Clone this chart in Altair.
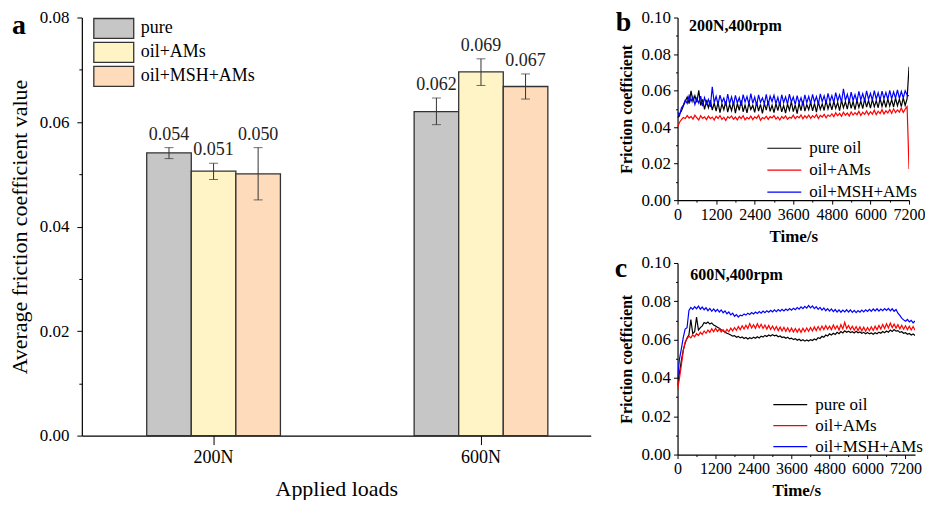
import altair as alt
import pandas as pd

FONT = "Liberation Serif"

# ---------------- panel a: average friction coefficient ----------------
LOADS = ["200N", "600N"]
GROUPS = ["pure", "oil+AMs", "oil+MSH+AMs"]
BAR_COLORS = ["#c6c6c6", "#fff4c6", "#fddbbb"]
BAR_LOAD = ["200N", "200N", "200N", "600N", "600N", "600N"]
BAR_GROUP = ["pure", "oil+AMs", "oil+MSH+AMs", "pure", "oil+AMs", "oil+MSH+AMs"]
BAR_MEAN = [0.0541, 0.0506, 0.0501, 0.0620, 0.0696, 0.0668]
BAR_ERR_LO = [0.0530, 0.0490, 0.0451, 0.0595, 0.0670, 0.0644]
BAR_ERR_HI = [0.0551, 0.0521, 0.0551, 0.0646, 0.0721, 0.0692]
BAR_LABEL = ["0.054", "0.051", "0.050", "0.062", "0.069", "0.067"]
A_Y_TICKS = [0.00, 0.01, 0.02, 0.03, 0.04, 0.05, 0.06, 0.07, 0.08]

# ---------------- panels b and c: friction coefficient vs time ----------------
SERIES = ["pure oil", "oil+AMs", "oil+MSH+AMs"]
LINE_COLORS = ["#000000", "#ff0000", "#0000ff"]
SAMPLE_STEP_S = 60  # sampling interval of the recorded curves (s)
TIME_TICKS = [0, 600, 1200, 1800, 2400, 3000, 3600, 4200, 4800, 5400, 6000, 6600, 7200]
BC_Y_TICKS = [0.00, 0.01, 0.02, 0.03, 0.04, 0.05, 0.06, 0.07, 0.08, 0.09, 0.10]

B_PURE = [
    0.0450, 0.0472, 0.0488, 0.0515, 0.0540, 0.0565, 0.0528, 0.0598, 0.0541, 0.0572,
    0.0535, 0.0601, 0.0518, 0.0552, 0.0497, 0.0541, 0.0506, 0.0548, 0.0493, 0.0532,
    0.0488, 0.0535, 0.0479, 0.0527, 0.0495, 0.0541, 0.0482, 0.0525, 0.0490, 0.0538,
    0.0476, 0.0529, 0.0492, 0.0546, 0.0484, 0.0521, 0.0478, 0.0533, 0.0496, 0.0519,
    0.0481, 0.0537, 0.0488, 0.0524, 0.0475, 0.0530, 0.0493, 0.0542, 0.0486, 0.0520,
    0.0479, 0.0528, 0.0490, 0.0535, 0.0483, 0.0518, 0.0477, 0.0526, 0.0492, 0.0539,
    0.0485, 0.0522, 0.0474, 0.0531, 0.0490, 0.0544, 0.0487, 0.0523, 0.0495, 0.0536,
    0.0489, 0.0530, 0.0482, 0.0538, 0.0497, 0.0527, 0.0491, 0.0545, 0.0499, 0.0533,
    0.0494, 0.0541, 0.0502, 0.0535, 0.0490, 0.0547, 0.0505, 0.0539, 0.0498, 0.0551,
    0.0503, 0.0540, 0.0496, 0.0548, 0.0507, 0.0543, 0.0501, 0.0555, 0.0509, 0.0546,
    0.0504, 0.0552, 0.0511, 0.0545, 0.0506, 0.0557, 0.0513, 0.0549, 0.0508, 0.0554,
    0.0515, 0.0550, 0.0510, 0.0558, 0.0517, 0.0553, 0.0512, 0.0560, 0.0519, 0.0556,
    0.0730,
]
B_AMS = [
    0.0400, 0.0425, 0.0441, 0.0452, 0.0447, 0.0463, 0.0449, 0.0458, 0.0444, 0.0465,
    0.0451, 0.0439, 0.0462, 0.0448, 0.0456, 0.0441, 0.0460, 0.0446, 0.0455, 0.0438,
    0.0459, 0.0447, 0.0463, 0.0442, 0.0454, 0.0436, 0.0457, 0.0449, 0.0461, 0.0443,
    0.0455, 0.0440, 0.0458, 0.0447, 0.0462, 0.0439, 0.0453, 0.0445, 0.0460, 0.0441,
    0.0456, 0.0448, 0.0464, 0.0437, 0.0452, 0.0446, 0.0459, 0.0442, 0.0457, 0.0450,
    0.0463, 0.0444, 0.0455, 0.0439, 0.0458, 0.0447, 0.0461, 0.0443, 0.0454, 0.0449,
    0.0465, 0.0446, 0.0459, 0.0451, 0.0467, 0.0445, 0.0462, 0.0450, 0.0466, 0.0448,
    0.0463, 0.0452, 0.0469, 0.0447, 0.0464, 0.0455, 0.0470, 0.0451, 0.0466, 0.0458,
    0.0473, 0.0456, 0.0478, 0.0462, 0.0475, 0.0459, 0.0481, 0.0465, 0.0477, 0.0461,
    0.0483, 0.0466, 0.0479, 0.0468, 0.0486, 0.0463, 0.0481, 0.0470, 0.0488, 0.0467,
    0.0484, 0.0471, 0.0492, 0.0468, 0.0487, 0.0474, 0.0495, 0.0472, 0.0489, 0.0477,
    0.0496, 0.0475, 0.0500, 0.0479, 0.0494, 0.0482, 0.0505, 0.0480, 0.0498, 0.0512,
    0.0170,
]
B_MSH = [
    0.0482, 0.0462, 0.0505, 0.0521, 0.0548, 0.0530, 0.0572, 0.0541, 0.0565, 0.0523,
    0.0558, 0.0531, 0.0570, 0.0515, 0.0562, 0.0527, 0.0552, 0.0510, 0.0621, 0.0533,
    0.0568, 0.0524, 0.0575, 0.0536, 0.0559, 0.0518, 0.0580, 0.0529, 0.0566, 0.0521,
    0.0573, 0.0532, 0.0561, 0.0516, 0.0578, 0.0538, 0.0567, 0.0525, 0.0583, 0.0530,
    0.0564, 0.0519, 0.0576, 0.0535, 0.0560, 0.0527, 0.0579, 0.0522, 0.0569, 0.0540,
    0.0574, 0.0528, 0.0563, 0.0517, 0.0577, 0.0534, 0.0566, 0.0526, 0.0581, 0.0537,
    0.0565, 0.0523, 0.0572, 0.0531, 0.0560, 0.0520, 0.0576, 0.0533, 0.0568, 0.0528,
    0.0579, 0.0536, 0.0567, 0.0525, 0.0582, 0.0539, 0.0571, 0.0530, 0.0585, 0.0541,
    0.0573, 0.0534, 0.0589, 0.0543, 0.0576, 0.0537, 0.0610, 0.0545, 0.0580, 0.0538,
    0.0592, 0.0546, 0.0578, 0.0540, 0.0596, 0.0549, 0.0583, 0.0544, 0.0598, 0.0551,
    0.0585, 0.0547, 0.0600, 0.0553, 0.0588, 0.0548, 0.0597, 0.0556, 0.0590, 0.0552,
    0.0601, 0.0555, 0.0593, 0.0558, 0.0604, 0.0557, 0.0595, 0.0560, 0.0599, 0.0576,
    0.0570,
]

C_PURE = [
    0.0360, 0.0425, 0.0490, 0.0545, 0.0582, 0.0608, 0.0625, 0.0705, 0.0632, 0.0641,
    0.0718, 0.0650, 0.0663, 0.0672, 0.0689, 0.0684, 0.0692, 0.0681, 0.0687, 0.0676,
    0.0671, 0.0664, 0.0659, 0.0652, 0.0646, 0.0640, 0.0633, 0.0629, 0.0624, 0.0618,
    0.0621, 0.0612, 0.0617, 0.0609, 0.0614, 0.0606, 0.0611, 0.0603, 0.0610, 0.0605,
    0.0612, 0.0607, 0.0615, 0.0609, 0.0618, 0.0613, 0.0622, 0.0616, 0.0624, 0.0619,
    0.0626, 0.0620, 0.0623, 0.0615, 0.0619, 0.0611, 0.0614, 0.0607, 0.0612, 0.0604,
    0.0608, 0.0600, 0.0605, 0.0597, 0.0602, 0.0594, 0.0599, 0.0592, 0.0598, 0.0593,
    0.0600, 0.0595, 0.0603, 0.0598, 0.0610, 0.0606, 0.0617, 0.0612, 0.0624, 0.0619,
    0.0630, 0.0624, 0.0633, 0.0627, 0.0638, 0.0631, 0.0642, 0.0635, 0.0646, 0.0638,
    0.0644, 0.0637, 0.0641, 0.0634, 0.0643, 0.0636, 0.0640, 0.0633, 0.0638, 0.0631,
    0.0637, 0.0630, 0.0635, 0.0628, 0.0636, 0.0631, 0.0639, 0.0633, 0.0642, 0.0636,
    0.0645, 0.0639, 0.0650, 0.0643, 0.0652, 0.0644, 0.0647, 0.0638, 0.0641, 0.0633,
    0.0636, 0.0628, 0.0632, 0.0624, 0.0629, 0.0622,
]
C_AMS = [
    0.0340, 0.0398, 0.0465, 0.0540, 0.0588, 0.0605, 0.0618, 0.0609, 0.0624, 0.0615,
    0.0632, 0.0621, 0.0638, 0.0627, 0.0645, 0.0633, 0.0650, 0.0638, 0.0657, 0.0641,
    0.0659, 0.0643, 0.0655, 0.0640, 0.0652, 0.0637, 0.0654, 0.0641, 0.0660, 0.0646,
    0.0663, 0.0648, 0.0668, 0.0652, 0.0672, 0.0655, 0.0675, 0.0658, 0.0684, 0.0661,
    0.0678, 0.0659, 0.0683, 0.0662, 0.0680, 0.0658, 0.0676, 0.0655, 0.0674, 0.0653,
    0.0671, 0.0650, 0.0668, 0.0647, 0.0665, 0.0645, 0.0664, 0.0643, 0.0662, 0.0641,
    0.0660, 0.0640, 0.0658, 0.0639, 0.0657, 0.0638, 0.0659, 0.0641, 0.0661, 0.0644,
    0.0663, 0.0645, 0.0666, 0.0647, 0.0668, 0.0649, 0.0671, 0.0652, 0.0673, 0.0654,
    0.0670, 0.0652, 0.0676, 0.0655, 0.0672, 0.0650, 0.0678, 0.0656, 0.0690, 0.0658,
    0.0674, 0.0653, 0.0670, 0.0649, 0.0668, 0.0647, 0.0666, 0.0645, 0.0665, 0.0644,
    0.0663, 0.0646, 0.0667, 0.0648, 0.0670, 0.0651, 0.0674, 0.0655, 0.0679, 0.0658,
    0.0683, 0.0661, 0.0686, 0.0663, 0.0681, 0.0660, 0.0678, 0.0656, 0.0675, 0.0654,
    0.0672, 0.0652, 0.0670, 0.0650, 0.0668, 0.0649,
]
C_MSH = [
    0.0400, 0.0498, 0.0552, 0.0610, 0.0655, 0.0662, 0.0752, 0.0768, 0.0758, 0.0772,
    0.0761, 0.0775, 0.0759, 0.0770, 0.0756, 0.0766, 0.0751, 0.0763, 0.0748, 0.0760,
    0.0747, 0.0758, 0.0744, 0.0755, 0.0740, 0.0750, 0.0735, 0.0744, 0.0729, 0.0738,
    0.0722, 0.0731, 0.0718, 0.0728, 0.0724, 0.0734, 0.0728, 0.0738, 0.0731, 0.0741,
    0.0734, 0.0744, 0.0737, 0.0746, 0.0738, 0.0749, 0.0741, 0.0751, 0.0743, 0.0753,
    0.0745, 0.0755, 0.0746, 0.0757, 0.0748, 0.0758, 0.0750, 0.0760, 0.0752, 0.0762,
    0.0754, 0.0764, 0.0756, 0.0767, 0.0759, 0.0771, 0.0762, 0.0774, 0.0764, 0.0778,
    0.0766, 0.0776, 0.0762, 0.0772, 0.0758, 0.0768, 0.0754, 0.0765, 0.0751, 0.0762,
    0.0749, 0.0760, 0.0746, 0.0757, 0.0744, 0.0755, 0.0743, 0.0754, 0.0745, 0.0756,
    0.0744, 0.0755, 0.0742, 0.0753, 0.0741, 0.0752, 0.0743, 0.0754, 0.0745, 0.0756,
    0.0747, 0.0758, 0.0748, 0.0760, 0.0750, 0.0761, 0.0749, 0.0759, 0.0751, 0.0762,
    0.0752, 0.0763, 0.0750, 0.0761, 0.0748, 0.0757, 0.0738, 0.0726, 0.0712, 0.0703,
    0.0696, 0.0705, 0.0692, 0.0701, 0.0688, 0.0697,
]

COND_TEXT = ["200N,400rpm", "600N,400rpm"]
COND_TIME = [360, 400]
COND_VALUE = [0.0955, 0.0938]
PANEL_LETTERS = ["a", "b", "c"]


def long_table(curves):
    rows = []
    for name, vals in zip(SERIES, curves):
        for i, v in enumerate(vals):
            rows.append({"series": name, "time": i * SAMPLE_STEP_S, "value": v})
    return pd.DataFrame(rows)


def letter_layer(letter, px, py):
    # panel letter, placed in the panel's top-left corner outside the axes
    return alt.Chart(pd.DataFrame({"letter": [letter]})).mark_text(
        align="left", baseline="top", fontSize=28, fontWeight="bold",
        font=FONT, color="black",
    ).encode(x=alt.value(px), y=alt.value(py), text="letter:N")


# ---------------- panel a ----------------
bars_df = pd.DataFrame({
    "load": BAR_LOAD, "group": BAR_GROUP, "mean": BAR_MEAN,
    "lo": BAR_ERR_LO, "hi": BAR_ERR_HI, "label": BAR_LABEL,
})

x_a = alt.X("load:N", sort=LOADS,
            scale=alt.Scale(paddingInner=0.5, paddingOuter=0.2015, align=0.602),
            axis=alt.Axis(title="Applied loads", labelAngle=0, tickSize=9,
                          labelPadding=4, labelFontSize=18, titleFontSize=22,
                          titlePadding=12, titleFontWeight="normal", labelOverlap=False))
xo_a = alt.XOffset("group:N", sort=GROUPS, scale=alt.Scale(paddingInner=0, paddingOuter=0))
y_scale_a = alt.Scale(domain=[0, 0.08], nice=False, padding=0)
y_axis_a = alt.Axis(title="Average friction coefficient value",
                    values=A_Y_TICKS, labelOverlap=False,
                    labelExpr="round(datum.value*100) % 2 === 0 ? format(datum.value, '.2f') : ''",
                    tickSize={"condition": {"test": "round(datum.value*100) % 2 === 1", "value": 3}, "value": 5},
                    labelPadding=8, labelFontSize=17, titleFontSize=22,
                    titlePadding=8, titleFontWeight="normal")

bars = alt.Chart(bars_df).mark_bar(stroke="#333333", strokeWidth=1.3).encode(
    x=x_a, xOffset=xo_a,
    y=alt.Y("mean:Q", scale=y_scale_a, axis=y_axis_a),
    color=alt.Color("group:N", sort=GROUPS,
                    scale=alt.Scale(domain=GROUPS, range=BAR_COLORS),
                    legend=alt.Legend(title=None, orient="none", legendX=21, legendY=0,
                                      symbolType="M-2,-1H2V1H-2Z", symbolSize=400,
                                      symbolStrokeColor="#333333", symbolStrokeWidth=1.3,
                                      labelFontSize=18, labelOffset=16, rowPadding=-2,
                                      padding=0, labelLimit=0)),
)
err = alt.Chart(bars_df).mark_rule(color="#333333", strokeWidth=1).encode(
    x=x_a, xOffset=xo_a, y=alt.Y("lo:Q", scale=y_scale_a, axis=y_axis_a), y2="hi:Q")
cap_hi = alt.Chart(bars_df).mark_tick(color="#333333", thickness=1, size=9).encode(
    x=x_a, xOffset=xo_a, y=alt.Y("hi:Q", scale=y_scale_a, axis=y_axis_a))
cap_lo = alt.Chart(bars_df).mark_tick(color="#333333", thickness=1, size=9).encode(
    x=x_a, xOffset=xo_a, y=alt.Y("lo:Q", scale=y_scale_a, axis=y_axis_a))
labels = alt.Chart(bars_df).mark_text(baseline="bottom", dy=-4, fontSize=18,
                                      font=FONT, color="#222222").encode(
    x=x_a, xOffset=xo_a, y=alt.Y("hi:Q", scale=y_scale_a, axis=y_axis_a), text="label:N")

panel_a = alt.layer(bars, err, cap_hi, cap_lo, labels,
                    letter_layer(PANEL_LETTERS[0], -70, -5)).properties(width=510, height=419)


# ---------------- panels b, c ----------------
def line_panel(curves, idx, xmax, w, h, leg_x, leg_y, leg_pad, letter_pos):
    df = long_table(curves)
    df = df[df["time"] <= xmax]
    x = alt.X("time:Q", scale=alt.Scale(domain=[0, xmax], nice=False, zero=False),
              axis=alt.Axis(title="Time/s", values=TIME_TICKS, labelOverlap=False,
                            labelExpr="datum.value % 1200 === 0 ? '' + datum.value : ''",
                            tickSize={"condition": {"test": "datum.value % 1200 !== 0", "value": 2}, "value": 4},
                            labelFontSize=16, labelPadding=2, titleFontSize=17,
                            titleFontWeight="bold", titlePadding=6, labelFlush=False))
    y = alt.Y("value:Q", scale=alt.Scale(domain=[0, 0.1], nice=False, padding=0),
              axis=alt.Axis(title="Friction coefficient", values=BC_Y_TICKS, labelOverlap=False,
                            labelExpr="round(datum.value*100) % 2 === 0 ? format(datum.value, '.2f') : ''",
                            tickSize={"condition": {"test": "round(datum.value*100) % 2 === 1", "value": 2}, "value": 4},
                            labelFontSize=17, labelPadding=3, titleFontSize=16,
                            titleFontWeight="bold", titlePadding=6))
    lines = alt.Chart(df).mark_line(strokeWidth=1.2, clip=True).encode(
        x=x, y=y,
        color=alt.Color("series:N", sort=SERIES,
                        scale=alt.Scale(domain=SERIES, range=LINE_COLORS),
                        legend=alt.Legend(title=None, orient="none", legendX=leg_x, legendY=leg_y,
                                          symbolType="M-1.7,0H1.7", symbolSize=400,
                                          symbolStrokeWidth=1.2, labelFontSize=17,
                                          labelOffset=14, rowPadding=leg_pad, padding=0,
                                          labelLimit=0)),
        detail="series:N",
    )
    note_df = pd.DataFrame({"time": [COND_TIME[idx]], "value": [COND_VALUE[idx]],
                            "text": [COND_TEXT[idx]]})
    note = alt.Chart(note_df).mark_text(align="left", baseline="middle", fontSize=16,
                                        fontWeight="bold", font=FONT, color="black").encode(
        x=x, y=y, text="text:N")
    return alt.layer(lines, note,
                     letter_layer(PANEL_LETTERS[idx + 1], *letter_pos)).properties(width=w, height=h)


panel_b = line_panel([B_PURE, B_AMS, B_MSH], 0, 7200, 232, 183, 96, 120, 3, (-62, -8))
panel_c = line_panel([C_PURE, C_AMS, C_MSH], 1, 7500, 238, 192, 102, 131, 2, (-63, -8))

right = alt.vconcat(panel_b, panel_c, spacing=10).resolve_scale(color="independent")
chart = alt.hconcat(panel_a, right, spacing=24).resolve_scale(
    color="independent").properties(padding=0).configure(
    font=FONT,
).configure_view(stroke=None).configure_axis(
    grid=False, domainColor="black", tickColor="black", labelColor="black",
    titleColor="black", labelFont=FONT, titleFont=FONT, domainWidth=1.2, tickWidth=1,
).configure_legend(labelFont=FONT, labelColor="black")

chart.save("out.html", embed_options={"renderer": "svg", "actions": False})
